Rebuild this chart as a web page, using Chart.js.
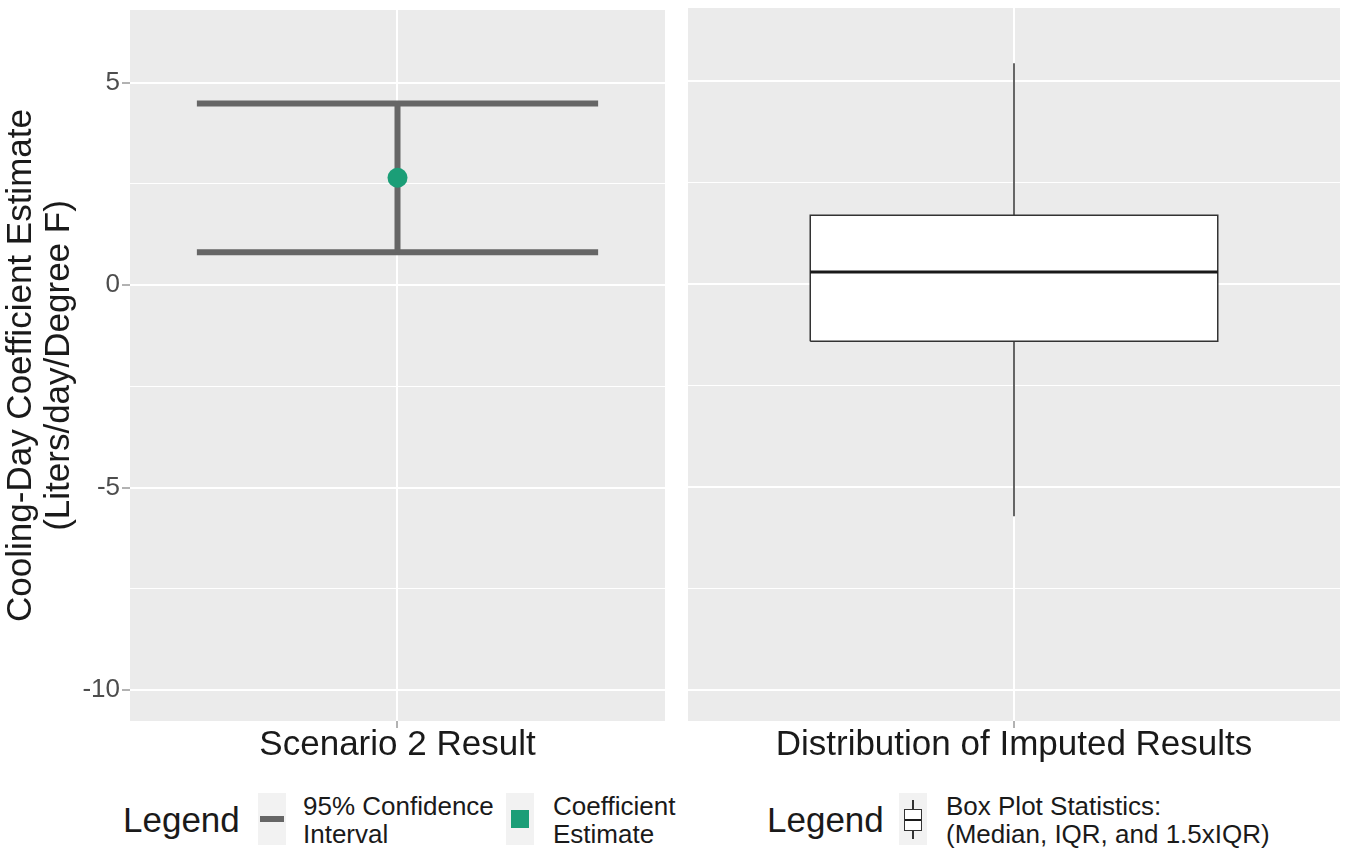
<!DOCTYPE html>
<html lang="en">
<head>
<meta charset="UTF-8">
<title>Cooling-Day Coefficient Estimate</title>
<script src="https://cdn.jsdelivr.net/npm/chart.js"></script>
<style>
    body {
        margin: 0;
        background: #fff;
        font-family: 'Liberation Sans', Arial, sans-serif;
        color: #1a1a1a;
    }

    #wrap {
        position: relative;
        width: 1345px;
        height: 852px;
        overflow: hidden;
    }

    #leftChart {
        position: absolute;
        left: 0;
        top: 0;
    }

    #rightChart {
        position: absolute;
        left: 688px;
        top: 0;
    }

    .lg-title {
        position: absolute;
        top: 793px;
        line-height: 54px;
        font-size: 35px;
        white-space: nowrap;
    }

    .lg-key {
        position: absolute;
        top: 793px;
        width: 28px;
        height: 52px;
        background: #f2f2f2;
    }

    .lg-text {
        position: absolute;
        top: 792px;
        font-size: 26px;
        line-height: 28px;
        white-space: nowrap;
    }

    .key-line {
        position: absolute;
        left: 2px;
        top: 23px;
        width: 24px;
        height: 6px;
        background: #666;
    }

    .key-square {
        position: absolute;
        left: 5px;
        top: 17px;
        width: 18px;
        height: 18px;
        background: #1b9e77;
    }

    .key-whisker {
        position: absolute;
        left: 13px;
        width: 1.5px;
        background: #333;
    }

    .key-box {
        position: absolute;
        left: 5px;
        top: 16px;
        width: 16px;
        height: 20px;
        border: 1.5px solid #333;
        background: #fff;
    }

    .key-median {
        position: absolute;
        left: 0;
        top: 9px;
        width: 16px;
        height: 2px;
        background: #1a1a1a;
    }
</style>
</head>
<body>
<div id="wrap">
    <!-- Chart.js keeps ~10px free on the right when y labels are shown, hence 675 -->
    <canvas id="leftChart" width="675" height="766"></canvas>
    <canvas id="rightChart" width="652" height="766"></canvas>

    <!-- legend under the left panel -->
    <div class="lg-title" style="left:123px">Legend</div>
    <div class="lg-key" style="left:258px"><div class="key-line"></div></div>
    <div class="lg-text" style="left:303px">95% Confidence<br>Interval</div>
    <div class="lg-key" style="left:506px"><div class="key-square"></div></div>
    <div class="lg-text" style="left:553px">Coefficient<br>Estimate</div>

    <!-- legend under the right panel -->
    <div class="lg-title" style="left:767px">Legend</div>
    <div class="lg-key" style="left:899px">
        <div class="key-whisker" style="top:7px;height:10px"></div>
        <div class="key-box"><div class="key-median"></div></div>
        <div class="key-whisker" style="top:37px;height:9px"></div>
    </div>
    <div class="lg-text" style="left:946px">Box Plot Statistics:<br>(Median, IQR, and 1.5xIQR)</div>
</div>

<script>
    // shared y axis
    const yTicks = [-10, -7.5, -5, -2.5, 0, 2.5, 5];
    const yTickLabels = ['-10', '', '-5', '', '0', '', '5'];
    const yRange = [-10.76, 6.79];
    const yTitle = ['Cooling-Day Coefficient Estimate', '(Liters/day/Degree F)'];

    // left panel: point estimate with 95% CI
    const scenarioLabel = 'Scenario 2 Result';
    const scenarioEstimate = [2.65];
    const scenarioCiLower = [0.81];
    const scenarioCiUpper = [4.48];

    // right panel: box plot of imputed results
    const imputedLabel = 'Distribution of Imputed Results';
    const imputedWhiskerLow = [-5.72];
    const imputedQ1 = [-1.41];
    const imputedMedian = [0.29];
    const imputedQ3 = [1.69];
    const imputedWhiskerHigh = [5.43];

    const xPos = 1;          // single discrete position per panel
    const xRange = [0.4, 1.6];
    const capHalf = 0.45;    // errorbar width 0.9
    const boxHalf = 0.375;   // box width 0.75

    const FONT = "'Liberation Sans', Arial, sans-serif";
    Chart.defaults.font.family = FONT;
    Chart.defaults.animation = false;

    const panelBg = {
        id: 'panelBg',
        beforeDraw(chart) {
            const { ctx, chartArea: a } = chart;
            ctx.save();
            ctx.fillStyle = '#ebebeb';
            ctx.fillRect(a.left, a.top, a.right - a.left, a.bottom - a.top);
            ctx.restore();
        }
    };

    const isMajor = i => yTicks[i] % 5 === 0;

    // no extra room for overhanging labels, panel edges are set by layout padding
    function noPad(s) {
        s.paddingTop = 0;
        s.paddingBottom = 0;
        s.paddingLeft = 0;
        s.paddingRight = 0;
    }

    function yScale(withLabels) {
        return {
            min: yRange[0],
            max: yRange[1],
            afterBuildTicks: s => { s.ticks = yTicks.map(v => ({ value: v })); },
            afterFit: s => { s.width = withLabels ? 130 : 0; noPad(s); },
            border: { display: false },
            grid: {
                color: '#ffffff',
                lineWidth: c => isMajor(c.index) ? 2 : 1,
                drawTicks: withLabels,
                tickLength: 8,
                tickWidth: 1,
                tickColor: c => isMajor(c.index) ? '#666' : 'rgba(0,0,0,0)'
            },
            ticks: {
                display: withLabels,
                autoSkip: false,
                padding: 2,
                color: '#4d4d4d',
                font: { size: 26 },
                callback: (v, i) => yTickLabels[i]
            },
            title: {
                display: withLabels,
                text: yTitle,
                color: '#1a1a1a',
                font: { size: 35, lineHeight: 1.09 },
                padding: { top: 2, bottom: 0 }
            }
        };
    }

    function xScale(label) {
        return {
            type: 'linear',
            min: xRange[0],
            max: xRange[1],
            afterBuildTicks: s => { s.ticks = [{ value: xPos }]; },
            afterFit: s => { s.height = 45; noPad(s); },
            border: { display: false },
            grid: { color: '#ffffff', lineWidth: 2, tickLength: 7, tickWidth: 1, tickColor: '#666' },
            ticks: { callback: () => '' },
            title: {
                display: true,
                text: label,
                color: '#1a1a1a',
                font: { size: 35 },
                padding: 0
            }
        };
    }

    const seg = (x1, y1, x2, y2) => [{ x: x1, y: y1 }, { x: x2, y: y2 }];

    function lineSet(data, color, width) {
        return {
            data: data,
            showLine: true,
            borderColor: color,
            borderWidth: width,
            borderCapStyle: 'butt',
            pointRadius: 0,
            fill: false
        };
    }

    const baseOptions = (y, label) => ({
        responsive: false,
        layout: { padding: { top: 8, left: 0, right: 0, bottom: 0 } },
        plugins: { legend: { display: false }, tooltip: { enabled: false } },
        scales: { x: xScale(label), y: y }
    });

    // left panel: estimate drawn on top of the interval
    const lo = scenarioCiLower[0], hi = scenarioCiUpper[0];
    new Chart(document.getElementById('leftChart'), {
        type: 'scatter',
        data: {
            datasets: [
                {
                    data: [{ x: xPos, y: scenarioEstimate[0] }],
                    pointRadius: 10,
                    pointBackgroundColor: '#1b9e77',
                    pointBorderWidth: 0
                },
                lineSet(seg(xPos - capHalf, hi, xPos + capHalf, hi), '#666666', 6),
                lineSet(seg(xPos, hi, xPos, lo), '#666666', 6),
                lineSet(seg(xPos - capHalf, lo, xPos + capHalf, lo), '#666666', 6)
            ]
        },
        options: baseOptions(yScale(true), scenarioLabel),
        plugins: [panelBg]
    });

    // right panel: box plot built from its summary statistics
    const q1 = imputedQ1[0], q3 = imputedQ3[0], med = imputedMedian[0];
    const bl = xPos - boxHalf, br = xPos + boxHalf;
    const boxFill = lineSet(seg(bl, q3, br, q3), 'rgba(0,0,0,0)', 0);
    boxFill.fill = { value: q1 };
    boxFill.backgroundColor = '#ffffff';

    new Chart(document.getElementById('rightChart'), {
        type: 'scatter',
        data: {
            datasets: [
                lineSet(seg(bl, med, br, med), '#1a1a1a', 3),
                lineSet([{ x: bl, y: q1 }, { x: br, y: q1 }, { x: br, y: q3 }, { x: bl, y: q3 }, { x: bl, y: q1 }], '#333333', 1.5),
                lineSet(seg(xPos, q3, xPos, imputedWhiskerHigh[0]), '#333333', 1.5),
                lineSet(seg(xPos, q1, xPos, imputedWhiskerLow[0]), '#333333', 1.5),
                boxFill
            ]
        },
        options: baseOptions(yScale(false), imputedLabel),
        plugins: [panelBg]
    });
</script>
</body>
</html>
